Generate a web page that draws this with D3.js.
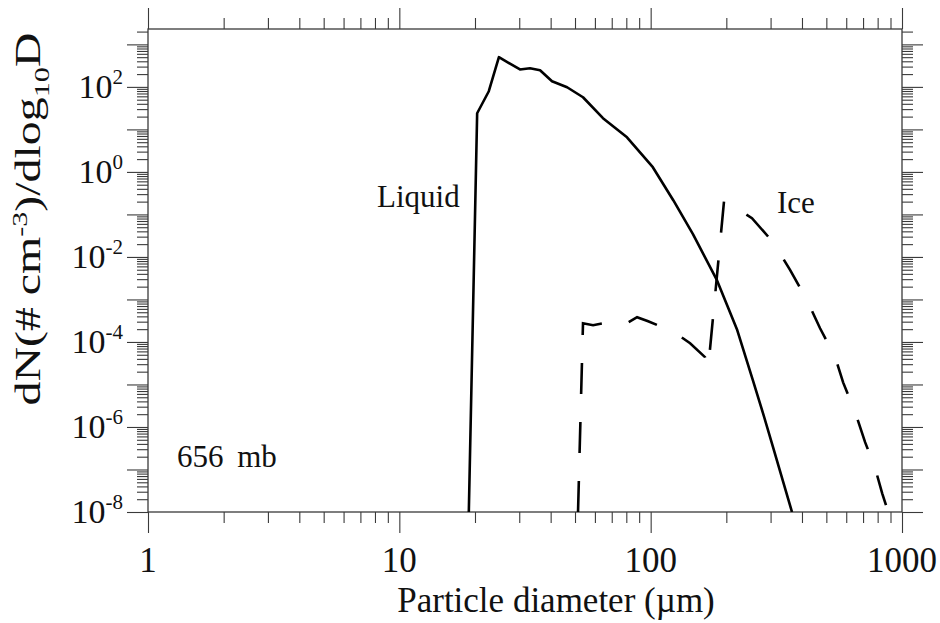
<!DOCTYPE html>
<html>
<head>
<meta charset="utf-8">
<script src="https://cdn.jsdelivr.net/npm/d3@7"></script>
<style>
  body { margin: 0; background: #fff; }
  text { font-family: "Liberation Serif", "Times New Roman", serif; fill: #111; }
</style>
</head>
<body>
<div id="chart"></div>
<script>
"use strict";

// liquid size distribution: diameter (um) and dN/dlog10D (# cm-3)
var liquidD = [18.9, 20.4, 22.7, 24.9, 30.2, 33.1, 36.3, 40.5, 46.5, 53.8, 64.6, 80.5,
               102, 123, 147.5, 183.7, 221, 255, 280, 307, 365];
var liquidN = [1e-8, 24, 79, 500, 257, 275, 247, 136, 98, 57, 18.4, 6.5,
               1.29, 0.216, 0.034, 2.8e-3, 1.9e-4, 1.26e-5, 2.1e-6, 3.3e-7, 1e-8];

// ice size distribution
var iceD = [51.4, 53.8, 59.0, 74.2, 80.5, 88.3, 97.7, 109, 127.4, 143.5, 164.5, 169.5,
            196, 253, 307, 359, 419, 472, 542, 583, 651, 713, 782, 834, 881];
var iceN = [1e-8, 2.75e-4, 2.47e-4, 3.24e-4, 2.75e-4, 3.82e-4, 3.07e-4, 2.34e-4, 1.52e-4, 9.3e-5, 4.4e-5, 2.5e-5,
            0.216, 0.0815, 0.0222, 4.9e-3, 9.5e-4, 2.1e-4, 4.4e-5, 1.12e-5, 2.24e-6, 4.4e-7, 1.07e-7, 2.75e-8, 1e-8];

// axis labels
var xTickLabels = [1, 10, 100, 1000];
var yTickExps = [-8, -6, -4, -2, 0, 2];
var xDomain = [1, 1000];
var yDomain = [1e-8, 2300];

var margin = {top: 29, right: 38, bottom: 111, left: 148},
    width = 940 - margin.left - margin.right,
    height = 623 - margin.top - margin.bottom;

var svg = d3.select("#chart")
  .append("svg")
    .attr("width", 940)
    .attr("height", 623);

var g = svg.append("g")
    .attr("transform", "translate(" + margin.left + "," + margin.top + ")");

var x = d3.scaleLog().domain(xDomain).range([0, width]);
var y = d3.scaleLog().domain(yDomain).range([height, 0]);

// all 1..9 ticks per decade, majors are the powers of ten
var xAll = x.ticks();
var yAll = y.ticks(40).filter(function(d) { return d <= yDomain[1]; });
function isPow(d) { return Math.abs(Math.log10(d) - Math.round(Math.log10(d))) < 1e-9; }
var xMajor = xAll.filter(isPow), xMinor = xAll.filter(function(d) { return !isPow(d); });
var yMajor = yAll.filter(isPow), yMinor = yAll.filter(function(d) { return !isPow(d); });

function tickAxis(axisFn, scale, values, size) {
  return axisFn(scale).tickValues(values).tickSize(size).tickSizeOuter(0).tickFormat("");
}

var axes = [
  [d3.axisBottom, x, "translate(0," + height + ")"],
  [d3.axisTop, x, "translate(0,0)"],
  [d3.axisLeft, y, "translate(0,0)"],
  [d3.axisRight, y, "translate(" + width + ",0)"]
];
axes.forEach(function(a) {
  var isX = a[1] === x;
  var ga = g.append("g").attr("transform", a[2]);
  ga.append("g").call(tickAxis(a[0], a[1], isX ? xMinor : yMinor, 11));
  ga.append("g").call(tickAxis(a[0], a[1], isX ? xMajor : yMajor, 21));
  ga.selectAll("path.domain").remove();
  ga.selectAll("line").attr("stroke", "#3a3a3a").attr("stroke-width", 1.1);
});

// frame
g.append("rect")
    .attr("width", width)
    .attr("height", height)
    .attr("fill", "none")
    .attr("stroke", "#3a3a3a")
    .attr("stroke-width", 1.3);

// x tick labels
g.selectAll(".xlab")
  .data(xTickLabels)
  .join("text")
    .attr("x", function(d) { return x(d); })
    .attr("y", height + 60)
    .attr("text-anchor", "middle")
    .style("font-size", "35px")
    .text(function(d) { return d; });

// y tick labels 10^n
var yl = g.selectAll(".ylab")
  .data(yTickExps)
  .join("text")
    .attr("x", -25)
    .attr("y", function(d) { return y(Math.pow(10, d)) + 11; })
    .attr("text-anchor", "end")
    .style("font-size", "34px");
yl.append("tspan").text("10");
yl.append("tspan")
    .attr("dy", -14)
    .style("font-size", "21px")
    .text(function(d) { return d < 0 ? "-" + (-d) : d; });

// curves
g.append("clipPath").attr("id", "clip")
  .append("rect").attr("width", width).attr("height", height);

var line = d3.line()
    .x(function(d) { return x(d[0]); })
    .y(function(d) { return y(d[1]); });

g.append("path")
    .datum(d3.zip(liquidD, liquidN))
    .attr("clip-path", "url(#clip)")
    .attr("fill", "none")
    .attr("stroke", "#000")
    .attr("stroke-width", 2.6)
    .attr("stroke-linejoin", "round")
    .attr("d", line);

g.append("path")
    .datum(d3.zip(iceD, iceN))
    .attr("clip-path", "url(#clip)")
    .attr("fill", "none")
    .attr("stroke", "#000")
    .attr("stroke-width", 2.6)
    .attr("stroke-dasharray", "31,28")
    .attr("d", line);

// annotations
svg.append("text").attr("x", 377).attr("y", 207).style("font-size", "31px").text("Liquid");
svg.append("text").attr("x", 777).attr("y", 213).style("font-size", "31px").text("Ice");
svg.append("text").attr("x", 177).attr("y", 467).style("font-size", "31px")
    .attr("word-spacing", 6).text("656 mb");

// x axis title
svg.append("text")
    .attr("x", 556)
    .attr("y", 612)
    .attr("text-anchor", "middle")
    .style("font-size", "35px")
    .text("Particle diameter (\u00b5m)");

// y axis title, stretched along its length like the original
var yt = svg.append("g").attr("transform", "translate(40,219) rotate(-90)");
var ytext = yt.append("text").style("font-size", "35px");
ytext.append("tspan").text("dN(# cm");
ytext.append("tspan").attr("dy", -13).style("font-size", "22px").text("-3");
ytext.append("tspan").attr("dy", 13).text(")/dlog");
ytext.append("tspan").attr("dy", 9).style("font-size", "22px").text("10");
ytext.append("tspan").attr("dy", -9).text("D");
var bb = ytext.node().getBBox();
var sx = 373 / bb.width;
ytext.attr("transform", "scale(" + sx + ",1) translate(" + (-bb.x - bb.width / 2) + ",0)");
</script>
</body>
</html>
